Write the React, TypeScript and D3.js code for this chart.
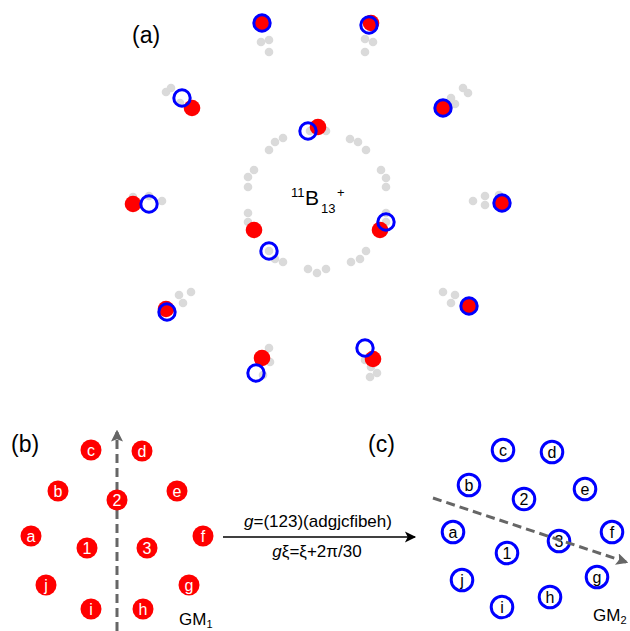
import React from 'react';
import * as d3 from 'd3';

// panel (a): atom positions relative to cluster centre (px units)
const grayAtoms: [number, number][] = [
  [-56, -153], [-48, -155], [-48, -143], [-55, -170],
  [48, -156], [56, -153], [48, -143], [55, -171],
  [-151, -103], [-146, -107], [-137, -92],
  [134, -97], [138, -91], [146, -107], [151, -102],
  [-184, 2], [-168, 1], [-155, 6],
  [156, 6], [168, 1], [168, 10], [182, 0],
  [-138, 100], [-126, 97], [-134, 108],
  [126, 97], [138, 100], [134, 108], [150, 115],
  [-48, 153], [-47, 167], [-54, 180],
  [48, 165], [53, 182], [60, 178], [54, 172],
  [-48, -45], [-42, -53], [-34, -57], [9, -64], [-7, -64],
  [33, -56], [41, -53], [49, -45],
  [-63, -25], [-69, -18], [-69, -8],
  [64, -25], [69, -17], [69, -8],
  [-69, 18], [-69, 27], [-63, 35],
  [69, 18], [69, 27], [63, 35],
  [-42, 64], [-34, 67], [-48, 56],
  [49, 56], [43, 64], [34, 67],
  [-9, 74], [0, 78], [9, 74],
];

const redAtoms: [number, number][] = [
  [-55, -172], [54, -172], [-125, -87], [126, -87], [1, -68],
  [-184, 9], [185, 8], [-63, 35], [63, 35], [-151, 114],
  [152, 111], [-55, 163], [56, 164],
];

const blueAtoms: [number, number][] = [
  [-55, -172], [52, -170], [-135, -97], [126, -87], [-9, -64],
  [-168, 9], [185, 8], [-48, 56], [69, 27], [-150, 117],
  [152, 111], [-61, 178], [48, 153],
];

// panels (b) and (c): labelled sites
const labelsB = ['c', 'd', 'b', 'e', '2', 'a', 'f', '1', '3', 'j', 'g', 'i', 'h'];
const sitesB: [number, number][] = [
  [-26, -80], [25, -79], [-59, -39], [60, -39], [0, -30], [-86, 6], [86, 6],
  [-30, 18], [30, 18], [-71, 55], [72, 55], [-26, 79], [26, 79],
];
const labelsC = ['c', 'd', 'b', 'e', '2', 'a', 'f', '3', '1', 'j', 'g', 'h', 'i'];
const sitesC: [number, number][] = [
  [-29, -80], [20, -78], [-63, -45], [53, -41], [-8, -31], [-79, 2], [80, 2],
  [27, 11], [-25, 23], [-70, 50], [65, 47], [18, 67], [-30, 77],
];

const font = 'Arial, "Liberation Sans", sans-serif';

function App() {
  const W = 630, H = 631;

  const ax = d3.scaleLinear().domain([-200, 200]).range([117, 517]);
  const ay = d3.scaleLinear().domain([-200, 200]).range([-5, 395]);

  const bx = d3.scaleLinear().domain([-100, 100]).range([17, 217]);
  const by = d3.scaleLinear().domain([-100, 100]).range([430, 630]);

  const cx = d3.scaleLinear().domain([-100, 100]).range([432, 632]);
  const cy = d3.scaleLinear().domain([-100, 100]).range([430, 630]);

  const gmLine = d3.line();

  return (
    <svg width={W} height={H} style={{ position: 'absolute', left: 0, top: 0, background: '#fff' }} fontFamily={font}>
      <defs>
        <marker id="gray-head" viewBox="0 0 10 10" refX="8" refY="5" markerWidth="4" markerHeight="4" orient="auto" markerUnits="strokeWidth">
          <path d="M0,0 L10,5 L0,10 L2,5 z" fill="#666" />
        </marker>
        <marker id="black-head" viewBox="0 0 10 10" refX="9" refY="5" markerWidth="9" markerHeight="7" orient="auto" markerUnits="strokeWidth">
          <path d="M0,0 L10,5 L0,10 L2.5,5 z" fill="#000" />
        </marker>
      </defs>

      {/* panel (a) */}
      <text x={132} y={43} fontSize={23}>(a)</text>
      {grayAtoms.map((d, i) => (
        <circle key={'g' + i} cx={ax(d[0])} cy={ay(d[1])} r={4.3} fill="#dadada" />
      ))}
      {redAtoms.map((d, i) => (
        <circle key={'r' + i} cx={ax(d[0])} cy={ay(d[1])} r={8.3} fill="#ff0000" />
      ))}
      {blueAtoms.map((d, i) => (
        <circle key={'b' + i} cx={ax(d[0])} cy={ay(d[1])} r={8.2} fill="none" stroke="#0000ff" strokeWidth={3} />
      ))}
      <text x={291} y={197} fontSize={13}>11</text>
      <text x={305} y={205} fontSize={21}>B</text>
      <text x={321} y={213} fontSize={13}>13</text>
      <text x={337} y={197} fontSize={13}>+</text>

      {/* panel (b) */}
      <text x={11} y={452} fontSize={23}>(b)</text>
      <path d={gmLine([[bx(0), 631], [bx(0), by(-100) + 2]]) || ''} stroke="#666" strokeWidth={3} strokeDasharray="9,5" fill="none" markerEnd="url(#gray-head)" />
      {sitesB.map((d, i) => (
        <g key={'sb' + i}>
          <circle cx={bx(d[0])} cy={by(d[1])} r={10.5} fill="#ff0000" />
          <text x={bx(d[0])} y={by(d[1]) + 5.5} fontSize={16} fill="#fff" textAnchor="middle">{labelsB[i]}</text>
        </g>
      ))}
      <text x={179} y={625} fontSize={17}>GM<tspan fontSize={11} dy={3}>1</tspan></text>

      {/* transformation arrow */}
      <path d={gmLine([[223, 537], [415, 537]]) || ''} stroke="#000" strokeWidth={1.6} fill="none" markerEnd="url(#black-head)" />
      <text x={318} y={527} fontSize={17} textAnchor="middle"><tspan fontStyle="italic">g</tspan>=(123)(adgjcfibeh)</text>
      <text x={317} y={557} fontSize={17} textAnchor="middle"><tspan fontStyle="italic">g</tspan>ξ=ξ+2π/30</text>

      {/* panel (c) */}
      <text x={368} y={452} fontSize={23}>(c)</text>
      {sitesC.map((d, i) => (
        <g key={'sc' + i}>
          <circle cx={cx(d[0])} cy={cy(d[1])} r={10.8} fill="#fff" stroke="#0000ff" strokeWidth={3} />
          <text x={cx(d[0])} y={cy(d[1]) + 5.5} fontSize={16} fill="#000" textAnchor="middle">{labelsC[i]}</text>
        </g>
      ))}
      <path d={gmLine([[433, 498], [626, 562]]) || ''} stroke="#666" strokeWidth={3} strokeDasharray="9,5" fill="none" markerEnd="url(#gray-head)" />
      <text x={593} y={621} fontSize={17}>GM<tspan fontSize={11} dy={3}>2</tspan></text>
    </svg>
  );
}

export default App;
